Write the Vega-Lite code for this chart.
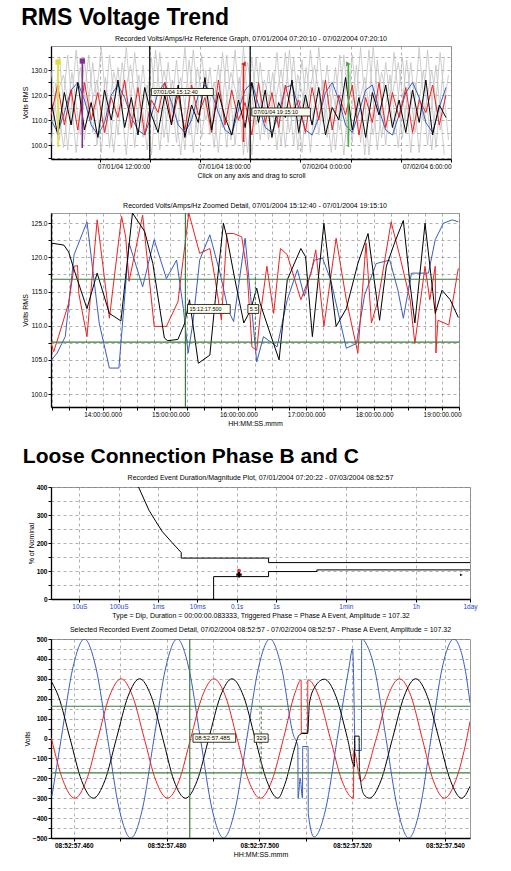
{
"$schema": "https://vega.github.io/schema/vega-lite/v6.json",
"background": "white",
"padding": {"left": 21, "right": 4, "top": 6, "bottom": 2},
"config": {
 "font": "Liberation Sans",
 "view": {"stroke": "#9a9a9a", "strokeWidth": 1},
 "axis": {"labelFontSize": 6.5, "titleFontSize": 7, "titleFontWeight": "normal", "domainColor": "#000", "domainWidth": 1.3, "tickColor": "#000", "tickSize": 3, "gridDash": [3, 3], "gridColor": "#7a7a7a", "gridWidth": 0.6, "labelColor": "#000", "titleColor": "#000", "labelPadding": 1, "titlePadding": 2, "labelFlush": false, "labelOverlap": false, "tickCount": 100},
 "title": {"fontSize": 7, "fontWeight": "normal", "color": "#000", "offset": 3},
 "line": {"clip": true}
},
"datasets": {
 "p1c": [
  {"t":6.1,"b":110,"r":112,"k":118},{"t":6.5,"b":105,"r":124,"k":104},{"t":6.9,"b":113,"r":108,"k":121},{"t":7.3,"b":122,"r":122,"k":108},{"t":7.7,"b":125,"r":106,"k":125},{"t":8.1,"b":118,"r":125,"k":106},{"t":8.5,"b":108,"r":110,"k":117},{"t":8.9,"b":104,"r":121,"k":103},{"t":9.3,"b":109,"r":105,"k":122},{"t":9.7,"b":120,"r":119,"k":110},
  {"t":10.1,"b":124,"r":111,"k":126},{"t":10.5,"b":119,"r":126,"k":107},{"t":10.9,"b":111,"r":107,"k":119},{"t":11.3,"b":106,"r":123,"k":104},{"t":11.7,"b":104,"r":104,"k":123},{"t":12.1,"b":112,"r":118,"k":112},{"t":12.5,"b":121,"r":113,"k":105},{"t":12.9,"b":125,"r":125,"k":120},{"t":13.3,"b":117,"r":109,"k":108},{"t":13.7,"b":108,"r":120,"k":124},
  {"t":14.1,"b":105,"r":106,"k":103},{"t":14.5,"b":110,"r":124,"k":116},{"t":14.9,"b":120,"r":112,"k":109},{"t":15.3,"b":124,"r":119,"k":127},{"t":15.7,"b":121,"r":105,"k":106},{"t":16.1,"b":113,"r":126,"k":121},{"t":16.5,"b":106,"r":108,"k":111},{"t":16.9,"b":104,"r":122,"k":104},{"t":17.3,"b":114,"r":110,"k":118},{"t":17.7,"b":122,"r":117,"k":107},
  {"t":18.1,"b":125,"r":104,"k":125},{"t":18.5,"b":116,"r":125,"k":109},{"t":18.9,"b":107,"r":109,"k":122},{"t":19.3,"b":105,"r":121,"k":103},{"t":19.7,"b":112,"r":107,"k":117},{"t":20.1,"b":123,"r":124,"k":111},{"t":20.5,"b":124,"r":113,"k":126},{"t":20.9,"b":115,"r":118,"k":105},{"t":21.3,"b":106,"r":105,"k":120},{"t":21.7,"b":104,"r":123,"k":108},
  {"t":22.1,"b":111,"r":110,"k":123},{"t":22.5,"b":121,"r":126,"k":104},{"t":22.9,"b":125,"r":106,"k":115},{"t":23.3,"b":118,"r":120,"k":110},{"t":23.7,"b":108,"r":112,"k":127},{"t":24.1,"b":105,"r":124,"k":106},{"t":24.5,"b":113,"r":104,"k":119},{"t":24.9,"b":122,"r":119,"k":103},{"t":25.3,"b":124,"r":109,"k":121},{"t":25.7,"b":114,"r":125,"k":112},
  {"t":26.1,"b":106,"r":107,"k":124},{"t":26.5,"b":104,"r":121,"k":107},{"t":26.9,"b":112,"r":111,"k":118},{"t":27.3,"b":121,"r":123,"k":105},{"t":27.7,"b":125,"r":105,"k":122},{"t":28.1,"b":119,"r":118,"k":109},{"t":28.5,"b":109,"r":113,"k":126},{"t":28.9,"b":105,"r":124,"k":104},{"t":29.3,"b":115,"r":108,"k":116},{"t":29.7,"b":123,"r":120,"k":111}
 ],
 "p1gA": [
  {"t":6.1,"g1":100,"g2":130},{"t":6.6,"g1":135,"g2":102},{"t":7.1,"g1":98,"g2":136},{"t":7.6,"g1":138,"g2":97},{"t":8.1,"g1":102,"g2":134},{"t":8.6,"g1":133,"g2":105},{"t":9.1,"g1":97,"g2":139},{"t":9.6,"g1":136,"g2":99},{"t":10.1,"g1":104,"g2":131},{"t":10.6,"g1":139,"g2":96},
  {"t":11.1,"g1":99,"g2":137},{"t":11.6,"g1":132,"g2":103},{"t":12.1,"g1":96,"g2":135},{"t":12.6,"g1":137,"g2":98},{"t":13.1,"g1":101,"g2":133},{"t":13.6,"g1":134,"g2":101},{"t":14.1,"g1":98,"g2":139},{"t":14.6,"g1":138,"g2":97},{"t":15.1,"g1":103,"g2":136},{"t":15.6,"g1":131,"g2":104},
  {"t":16.1,"g1":97,"g2":132},{"t":16.6,"g1":136,"g2":99},{"t":17.1,"g1":100,"g2":138},{"t":17.6,"g1":139,"g2":96},{"t":18.1,"g1":96,"g2":135},{"t":18.6,"g1":133,"g2":102},{"t":19.1,"g1":102,"g2":130},{"t":19.6,"g1":137,"g2":98},{"t":20.1,"g1":99,"g2":137},{"t":20.6,"g1":135,"g2":100},
  {"t":21.1,"g1":97,"g2":134},{"t":21.6,"g1":138,"g2":97},{"t":22.1,"g1":104,"g2":139},{"t":22.6,"g1":132,"g2":103},{"t":23.1,"g1":98,"g2":131},{"t":23.6,"g1":136,"g2":96},{"t":24.1,"g1":101,"g2":136},{"t":24.6,"g1":139,"g2":101},{"t":25.1,"g1":96,"g2":138},{"t":25.6,"g1":134,"g2":98},
  {"t":26.1,"g1":100,"g2":133},{"t":26.6,"g1":137,"g2":104},{"t":27.1,"g1":103,"g2":135},{"t":27.6,"g1":133,"g2":97},{"t":28.1,"g1":97,"g2":139},{"t":28.6,"g1":138,"g2":100},{"t":29.1,"g1":99,"g2":132},{"t":29.6,"g1":135,"g2":96}
 ],
 "p1gB": [
  {"t":6.35,"g3":118,"g4":125},{"t":6.85,"g3":128,"g4":99},{"t":7.35,"g3":108,"g4":129},{"t":7.85,"g3":131,"g4":104},{"t":8.35,"g3":112,"g4":136},{"t":8.85,"g3":126,"g4":100},{"t":9.35,"g3":105,"g4":127},{"t":9.85,"g3":129,"g4":97},{"t":10.35,"g3":115,"g4":133},{"t":10.85,"g3":132,"g4":106},
  {"t":11.35,"g3":109,"g4":128},{"t":11.85,"g3":124,"g4":98},{"t":12.35,"g3":106,"g4":138},{"t":12.85,"g3":130,"g4":103},{"t":13.35,"g3":113,"g4":126},{"t":13.85,"g3":127,"g4":96},{"t":14.35,"g3":104,"g4":134},{"t":14.85,"g3":131,"g4":105},{"t":15.35,"g3":110,"g4":130},{"t":15.85,"g3":125,"g4":99},
  {"t":16.35,"g3":107,"g4":137},{"t":16.85,"g3":129,"g4":102},{"t":17.35,"g3":116,"g4":127},{"t":17.85,"g3":133,"g4":97},{"t":18.35,"g3":108,"g4":135},{"t":18.85,"g3":126,"g4":104},{"t":19.35,"g3":111,"g4":129},{"t":19.85,"g3":130,"g4":100},{"t":20.35,"g3":105,"g4":138},{"t":20.85,"g3":128,"g4":98},
  {"t":21.35,"g3":114,"g4":131},{"t":21.85,"g3":132,"g4":106},{"t":22.35,"g3":109,"g4":126},{"t":22.85,"g3":124,"g4":97},{"t":23.35,"g3":106,"g4":136},{"t":23.85,"g3":131,"g4":101},{"t":24.35,"g3":112,"g4":132},{"t":24.85,"g3":127,"g4":96},{"t":25.35,"g3":104,"g4":139},{"t":25.85,"g3":129,"g4":103},
  {"t":26.35,"g3":115,"g4":128},{"t":26.85,"g3":133,"g4":99},{"t":27.35,"g3":107,"g4":134},{"t":27.85,"g3":125,"g4":105},{"t":28.35,"g3":110,"g4":130},{"t":28.85,"g3":130,"g4":98},{"t":29.35,"g3":106,"g4":137},{"t":29.85,"g3":128,"g4":102}
 ],
 "p1m": [
  {"m":"Phase A","t":6.52,"v":99.2,"v2":133.2},
  {"m":"Phase B","t":7.97,"v":98.8,"v2":133.6},
  {"m":"Phase C","t":17.6,"v":101.2,"v2":132.4},
  {"m":"Neutral","t":23.87,"v":99.2,"v2":132.4}
 ],
 "p1lab": [
  {"t":12.1,"t2":15.8,"v":119.8,"v2":122.6,"txt":"07/01/04 15:12:40"},
  {"t":18.1,"t2":21.6,"v":111.6,"v2":114.8,"txt":"07/01/04 19:15:10"}
 ],
 "p2": [
  {"s":"b","t":13.24,"v":104.9},{"s":"b","t":13.33,"v":106.0},{"s":"b","t":13.45,"v":108.4},{"s":"b","t":13.58,"v":120.4},{"s":"b","t":13.77,"v":125.2},{"s":"b","t":13.95,"v":110.4},{"s":"b","t":14.10,"v":103.8},{"s":"b","t":14.24,"v":103.8},{"s":"b","t":14.39,"v":122.1},{"s":"b","t":14.59,"v":115.7},
  {"s":"b","t":14.76,"v":122.6},{"s":"b","t":14.94,"v":116.9},{"s":"b","t":15.09,"v":119.6},{"s":"b","t":15.19,"v":112.5},{"s":"b","t":15.26,"v":106.0},{"s":"b","t":15.33,"v":110.4},{"s":"b","t":15.43,"v":119.6},{"s":"b","t":15.58,"v":123.3},{"s":"b","t":15.73,"v":117.7},{"s":"b","t":15.85,"v":112.3},
  {"s":"b","t":15.93,"v":110.6},{"s":"b","t":16.10,"v":122.8},{"s":"b","t":16.18,"v":114.3},{"s":"b","t":16.27,"v":104.7},{"s":"b","t":16.37,"v":108.4},{"s":"b","t":16.57,"v":106.9},{"s":"b","t":16.72,"v":113.8},{"s":"b","t":16.87,"v":118.2},{"s":"b","t":16.97,"v":114.3},{"s":"b","t":17.12,"v":119.6},
  {"s":"b","t":17.24,"v":119.9},{"s":"b","t":17.36,"v":116.7},{"s":"b","t":17.59,"v":106.7},{"s":"b","t":17.74,"v":107.4},{"s":"b","t":17.86,"v":114.5},{"s":"b","t":18.03,"v":119.1},{"s":"b","t":18.23,"v":119.6},{"s":"b","t":18.35,"v":115.2},{"s":"b","t":18.43,"v":111.1},{"s":"b","t":18.55,"v":117.7},
  {"s":"b","t":18.80,"v":117.7},{"s":"b","t":18.90,"v":122.6},{"s":"b","t":19.02,"v":125.0},{"s":"b","t":19.15,"v":125.5},{"s":"b","t":19.24,"v":125.2},
  {"s":"r","t":13.24,"v":107.4},{"s":"r","t":13.28,"v":106.2},{"s":"r","t":13.35,"v":108.4},{"s":"r","t":13.50,"v":113.3},{"s":"r","t":13.58,"v":118.7},{"s":"r","t":13.63,"v":118.8},{"s":"r","t":13.65,"v":114.7},{"s":"r","t":13.77,"v":108.4},{"s":"r","t":13.92,"v":125.5},{"s":"r","t":13.97,"v":121.6},
  {"s":"r","t":14.10,"v":111.1},{"s":"r","t":14.28,"v":126.0},{"s":"r","t":14.34,"v":123.0},{"s":"r","t":14.39,"v":116.5},{"s":"r","t":14.59,"v":126.2},{"s":"r","t":14.76,"v":109.9},{"s":"r","t":14.94,"v":109.9},{"s":"r","t":15.11,"v":113.5},{"s":"r","t":15.21,"v":121.6},{"s":"r","t":15.27,"v":126.5},
  {"s":"r","t":15.43,"v":120.6},{"s":"r","t":15.58,"v":121.3},{"s":"r","t":15.66,"v":116.7},{"s":"r","t":15.75,"v":110.8},{"s":"r","t":15.83,"v":123.5},{"s":"r","t":15.93,"v":123.5},{"s":"r","t":16.05,"v":123.0},{"s":"r","t":16.13,"v":117.7},{"s":"r","t":16.20,"v":106.9},{"s":"r","t":16.27,"v":106.4},
  {"s":"r","t":16.32,"v":111.3},{"s":"r","t":16.42,"v":118.7},{"s":"r","t":16.52,"v":111.8},{"s":"r","t":16.62,"v":121.3},{"s":"r","t":16.72,"v":120.4},{"s":"r","t":16.92,"v":113.8},{"s":"r","t":17.07,"v":117.7},{"s":"r","t":17.14,"v":121.1},{"s":"r","t":17.26,"v":109.9},{"s":"r","t":17.44,"v":122.8},
  {"s":"r","t":17.59,"v":113.8},{"s":"r","t":17.76,"v":106.0},{"s":"r","t":17.88,"v":122.1},{"s":"r","t":17.96,"v":110.4},{"s":"r","t":18.06,"v":113.8},{"s":"r","t":18.25,"v":125.2},{"s":"r","t":18.38,"v":120.1},{"s":"r","t":18.53,"v":113.8},{"s":"r","t":18.60,"v":107.4},{"s":"r","t":18.75,"v":118.7},
  {"s":"r","t":18.82,"v":113.8},{"s":"r","t":18.90,"v":118.7},{"s":"r","t":18.91,"v":106.0},{"s":"r","t":18.94,"v":110.8},{"s":"r","t":19.10,"v":110.1},{"s":"r","t":19.24,"v":118.4},
  {"s":"k","t":13.24,"v":122.1},{"s":"k","t":13.43,"v":121.8},{"s":"k","t":13.50,"v":120.8},{"s":"k","t":13.58,"v":118.2},{"s":"k","t":13.77,"v":112.5},{"s":"k","t":13.92,"v":117.7},{"s":"k","t":14.10,"v":111.8},{"s":"k","t":14.27,"v":110.7},{"s":"k","t":14.44,"v":126.5},{"s":"k","t":14.62,"v":123.8},
  {"s":"k","t":14.74,"v":119.1},{"s":"k","t":14.91,"v":108.2},{"s":"k","t":14.96,"v":107.8},{"s":"k","t":15.11,"v":108.0},{"s":"k","t":15.21,"v":110.4},{"s":"k","t":15.28,"v":113.8},{"s":"k","t":15.41,"v":104.5},{"s":"k","t":15.58,"v":105.7},{"s":"k","t":15.66,"v":113.8},{"s":"k","t":15.78,"v":125.0},
  {"s":"k","t":15.83,"v":123.0},{"s":"k","t":15.95,"v":116.7},{"s":"k","t":16.08,"v":110.4},{"s":"k","t":16.18,"v":112.3},{"s":"k","t":16.27,"v":115.5},{"s":"k","t":16.32,"v":113.3},{"s":"k","t":16.45,"v":109.4},{"s":"k","t":16.60,"v":105.0},{"s":"k","t":16.72,"v":116.7},{"s":"k","t":16.92,"v":121.3},
  {"s":"k","t":16.99,"v":120.1},{"s":"k","t":17.09,"v":108.4},{"s":"k","t":17.26,"v":125.0},{"s":"k","t":17.34,"v":118.2},{"s":"k","t":17.44,"v":109.9},{"s":"k","t":17.59,"v":112.5},{"s":"k","t":17.76,"v":119.1},{"s":"k","t":17.91,"v":123.5},{"s":"k","t":18.08,"v":110.8},{"s":"k","t":18.18,"v":118.7},
  {"s":"k","t":18.30,"v":122.1},{"s":"k","t":18.43,"v":125.4},{"s":"k","t":18.53,"v":116.0},{"s":"k","t":18.60,"v":110.4},{"s":"k","t":18.75,"v":125.0},{"s":"k","t":18.90,"v":111.8},{"s":"k","t":19.00,"v":115.2},{"s":"k","t":19.12,"v":113.8},{"s":"k","t":19.24,"v":111.2}
 ],
 "p2lab": [
  {"t":15.25,"t2":15.88,"v":111.8,"v2":113.1,"txt":"15:12:17.500"},
  {"t":16.14,"t2":16.30,"v":111.8,"v2":113.1,"txt":"5.5"}
 ],
 "p3": [
  {"s":"u","i":0,"t":0.00032,"v":400},{"s":"u","i":1,"t":0.00059,"v":317},{"s":"u","i":2,"t":0.00089,"v":276},{"s":"u","i":3,"t":0.0013,"v":240},{"s":"u","i":4,"t":0.0023,"v":201},{"s":"u","i":5,"t":0.0039,"v":166},{"s":"u","i":6,"t":0.0039,"v":146},{"s":"u","i":7,"t":0.65,"v":146},{"s":"u","i":8,"t":0.65,"v":130},{"s":"u","i":9,"t":86400,"v":130},
  {"s":"l","i":0,"t":0.026,"v":0},{"s":"l","i":1,"t":0.026,"v":80},{"s":"l","i":2,"t":0.65,"v":80},{"s":"l","i":3,"t":0.65,"v":98},{"s":"l","i":4,"t":11,"v":98},{"s":"l","i":5,"t":11,"v":104},{"s":"l","i":6,"t":86400,"v":104}
 ],
 "p4": [
  {"s":"b","t":455.3,"v":-290},{"s":"b","t":457.3,"v":0},{"s":"b","t":459.8,"v":354},{"s":"b","t":462.3,"v":500},{"s":"b","t":464.8,"v":354},{"s":"b","t":467.3,"v":0},{"s":"b","t":469.8,"v":-354},{"s":"b","t":472.3,"v":-500},{"s":"b","t":474.8,"v":-354},{"s":"b","t":477.3,"v":0},
  {"s":"b","t":479.8,"v":354},{"s":"b","t":482.3,"v":500},{"s":"b","t":484.8,"v":354},{"s":"b","t":487.3,"v":0},{"s":"b","t":489.8,"v":-354},{"s":"b","t":492.3,"v":-500},{"s":"b","t":494.8,"v":-354},{"s":"b","t":497.3,"v":0},{"s":"b","t":499.8,"v":354},{"s":"b","t":502.3,"v":500},
  {"s":"b","t":504.8,"v":354},{"s":"b","t":507.3,"v":20},{"s":"b","t":508.3,"v":-40},{"s":"b","t":508.35,"v":-300},{"s":"b","t":508.8,"v":-200},{"s":"b","t":509.3,"v":-300},{"s":"b","t":509.35,"v":-40},{"s":"b","t":510.5,"v":-40},{"s":"b","t":510.55,"v":-380},{"s":"b","t":511.8,"v":-495},
  {"s":"b","t":514.3,"v":-354},{"s":"b","t":516.8,"v":0},{"s":"b","t":519.3,"v":354},{"s":"b","t":520.1,"v":450},{"s":"b","t":520.7,"v":-60},{"s":"b","t":522.0,"v":-60},{"s":"b","t":522.05,"v":505},{"s":"b","t":522.3,"v":500},{"s":"b","t":524.8,"v":354},{"s":"b","t":527.3,"v":0},
  {"s":"b","t":529.8,"v":-354},{"s":"b","t":532.2,"v":-500},{"s":"b","t":534.6,"v":-354},{"s":"b","t":537.0,"v":0},{"s":"b","t":539.4,"v":354},{"s":"b","t":541.9,"v":500},{"s":"b","t":544.3,"v":354},{"s":"b","t":545.4,"v":180},
  {"s":"r","t":455.2,"v":0},{"s":"r","t":457.7,"v":-212},{"s":"r","t":460.2,"v":-300},{"s":"r","t":462.7,"v":-212},{"s":"r","t":465.2,"v":0},{"s":"r","t":467.7,"v":212},{"s":"r","t":470.2,"v":300},{"s":"r","t":472.7,"v":212},{"s":"r","t":475.2,"v":0},{"s":"r","t":477.7,"v":-212},
  {"s":"r","t":480.2,"v":-300},{"s":"r","t":482.7,"v":-212},{"s":"r","t":485.2,"v":0},{"s":"r","t":487.7,"v":212},{"s":"r","t":490.2,"v":300},{"s":"r","t":492.7,"v":212},{"s":"r","t":495.2,"v":0},{"s":"r","t":497.7,"v":-212},{"s":"r","t":500.2,"v":-300},{"s":"r","t":502.7,"v":-212},
  {"s":"r","t":505.2,"v":0},{"s":"r","t":507.7,"v":230},{"s":"r","t":509.0,"v":295},{"s":"r","t":509.05,"v":28},{"s":"r","t":510.4,"v":28},{"s":"r","t":510.45,"v":295},{"s":"r","t":512.8,"v":212},{"s":"r","t":515.3,"v":0},{"s":"r","t":517.8,"v":-212},{"s":"r","t":520.3,"v":-300},
  {"s":"r","t":520.35,"v":-60},{"s":"r","t":521.9,"v":-214},{"s":"r","t":525.2,"v":0},{"s":"r","t":527.7,"v":212},{"s":"r","t":530.2,"v":300},{"s":"r","t":532.7,"v":212},{"s":"r","t":535.1,"v":0},{"s":"r","t":537.5,"v":-212},{"s":"r","t":539.9,"v":-300},{"s":"r","t":542.3,"v":-212},
  {"s":"r","t":544.7,"v":0},{"s":"r","t":545.4,"v":85},
  {"s":"k","t":455.3,"v":282},{"s":"k","t":456.7,"v":212},{"s":"k","t":459.2,"v":0},{"s":"k","t":461.7,"v":-212},{"s":"k","t":464.2,"v":-300},{"s":"k","t":466.7,"v":-212},{"s":"k","t":469.2,"v":0},{"s":"k","t":471.7,"v":212},{"s":"k","t":474.2,"v":300},{"s":"k","t":476.7,"v":212},
  {"s":"k","t":479.2,"v":0},{"s":"k","t":481.6,"v":-212},{"s":"k","t":484.1,"v":-300},{"s":"k","t":486.6,"v":-212},{"s":"k","t":489.1,"v":0},{"s":"k","t":491.6,"v":212},{"s":"k","t":494.1,"v":300},{"s":"k","t":496.6,"v":212},{"s":"k","t":499.1,"v":0},{"s":"k","t":501.6,"v":-212},
  {"s":"k","t":504.0,"v":-300},{"s":"k","t":505.5,"v":-230},{"s":"k","t":507.6,"v":-48},{"s":"k","t":508.4,"v":10},{"s":"k","t":509.2,"v":25},{"s":"k","t":510.4,"v":25},{"s":"k","t":510.8,"v":178},{"s":"k","t":512.0,"v":260},{"s":"k","t":514.0,"v":298},{"s":"k","t":516.5,"v":212},
  {"s":"k","t":519.0,"v":0},{"s":"k","t":520.5,"v":-140},{"s":"k","t":520.55,"v":12},{"s":"k","t":521.5,"v":12},{"s":"k","t":521.55,"v":-150},{"s":"k","t":522.5,"v":-280},{"s":"k","t":523.7,"v":-300},{"s":"k","t":526.2,"v":-212},{"s":"k","t":528.7,"v":0},{"s":"k","t":531.2,"v":212},
  {"s":"k","t":533.7,"v":300},{"s":"k","t":536.2,"v":212},{"s":"k","t":538.7,"v":0},{"s":"k","t":541.2,"v":-212},{"s":"k","t":543.6,"v":-300},{"s":"k","t":545.4,"v":-240}
 ],
 "p4lab": [
  {"t":485.7,"t2":494.9,"v":-19,"v2":23,"txt":"08:52:57.485"},
  {"t":498.9,"t2":501.9,"v":-19,"v2":23,"txt":"329"}
 ]
},
"spacing": 18,
"vconcat": [
 {
  "title": {"text": "RMS Voltage Trend", "fontSize": 23, "fontWeight": "bold", "anchor": "start", "offset": 5, "font": "Liberation Sans"},
  "spacing": 22,
  "vconcat": [
   {
    "width": 400, "height": 113,
    "title": {"text": "Recorded Volts/Amps/Hz Reference Graph, 07/01/2004 07:20:10 - 07/02/2004 07:20:10"},
    "layer": [
     {"data": {"name": "p1gA"}, "transform": [{"fold": ["g1", "g2"], "as": ["s", "v"]}],
      "mark": {"type": "line", "color": "#c2c2c2", "strokeWidth": 0.8, "clip": true},
      "encoding": {
       "x": {"field": "t", "type": "quantitative", "scale": {"domain": [6.1, 30], "nice": false, "zero": false},
             "axis": {"title": "Click on any axis and drag to scroll", "tickCount": 100, "values": [9, 12, 15, 18, 21, 24, 27, 30], "labelAlign": "right", "labelOverlap": false,
                      "labelExpr": "datum.value==12?'07/01/04 12:00:00':datum.value==18?'07/01/04 18:00:00':datum.value==24?'07/02/04 0:00:00':datum.value==30?'07/02/04 6:00:00':''"}},
       "y": {"field": "v", "type": "quantitative", "scale": {"domain": [94.4, 139.6], "nice": false, "zero": false},
             "axis": {"title": "Volts RMS", "tickCount": 100, "values": [95, 100, 105, 110, 115, 120, 125, 130, 135], "labelOverlap": false, "labelExpr": "datum.value%10==0?format(datum.value,'.1f'):''"}},
       "detail": {"field": "s"}}},
     {"data": {"name": "p1gB"}, "transform": [{"fold": ["g3", "g4"], "as": ["s", "v"]}],
      "mark": {"type": "line", "color": "#c2c2c2", "strokeWidth": 0.8, "clip": true},
      "encoding": {"x": {"field": "t", "type": "quantitative"}, "y": {"field": "v", "type": "quantitative"}, "detail": {"field": "s"}}},
     {"data": {"name": "p1c"}, "transform": [{"fold": ["b", "r", "k"], "as": ["s", "v"]}],
      "mark": {"type": "line", "strokeWidth": 1, "clip": true},
      "encoding": {"x": {"field": "t", "type": "quantitative"}, "y": {"field": "v", "type": "quantitative"},
       "color": {"field": "s", "type": "nominal", "scale": {"domain": ["b", "r", "k"], "range": ["#3a5cc0", "#ee2020", "#000000"]}, "legend": null}}},
     {"data": {"values": [{"t": 12}, {"t": 18}]}, "mark": {"type": "rule", "color": "#000", "strokeWidth": 1.2},
      "encoding": {"x": {"field": "t", "type": "quantitative"}}},
     {"data": {"name": "p1m"}, "mark": {"type": "rule", "strokeWidth": 1.6},
      "encoding": {"x": {"field": "t", "type": "quantitative"}, "y": {"field": "v", "type": "quantitative"}, "y2": {"field": "v2"},
       "stroke": {"field": "m", "type": "nominal", "scale": {"domain": ["Phase A", "Phase B", "Phase C", "Neutral"], "range": ["#e6dc2c", "#8a2a9a", "#e02020", "#44b044"]}, "legend": null}}},
     {"data": {"name": "p1m"}, "mark": {"type": "point", "filled": true, "size": 28, "opacity": 1},
      "encoding": {"x": {"field": "t", "type": "quantitative"}, "y": {"field": "v2", "type": "quantitative"},
       "fill": {"field": "m", "type": "nominal", "scale": {"domain": ["Phase A", "Phase B", "Phase C", "Neutral"], "range": ["#e6dc2c", "#8a2a9a", "#e02020", "#44b044"]}, "legend": null},
       "shape": {"field": "m", "type": "nominal", "scale": {"domain": ["Phase A", "Phase B", "Phase C", "Neutral"], "range": ["square", "square", "triangle-left", "triangle-right"]}, "legend": null}}},
     {"data": {"name": "p1lab"}, "mark": {"type": "rect", "fill": "#fffff0", "stroke": "#000", "strokeWidth": 0.8},
      "encoding": {"x": {"field": "t", "type": "quantitative"}, "x2": {"field": "t2"}, "y": {"field": "v", "type": "quantitative"}, "y2": {"field": "v2"}}},
     {"data": {"name": "p1lab"}, "mark": {"type": "text", "fontSize": 5.5, "align": "left", "baseline": "bottom", "dx": 2, "dy": -1},
      "encoding": {"x": {"field": "t", "type": "quantitative"}, "y": {"field": "v", "type": "quantitative"}, "text": {"field": "txt"}}}
    ]
   },
   {
    "width": 408, "height": 194,
    "title": {"text": "Recorded Volts/Amps/Hz Zoomed Detail, 07/01/2004 15:12:40 - 07/01/2004 19:15:10"},
    "layer": [
     {"data": {"name": "p2"}, "mark": {"type": "line", "strokeWidth": 1, "clip": true},
      "encoding": {
       "x": {"field": "t", "type": "quantitative", "scale": {"domain": [13.24, 19.25], "nice": false, "zero": false},
             "axis": {"title": "HH:MM:SS.mmm", "tickCount": 100, "labelOverlap": false, "values": [13.25, 13.5, 13.75, 14, 14.25, 14.5, 14.75, 15, 15.25, 15.5, 15.75, 16, 16.25, 16.5, 16.75, 17, 17.25, 17.5, 17.75, 18, 18.25, 18.5, 18.75, 19, 19.25],
                      "labelExpr": "datum.value%1==0?format(datum.value,'02d')+':00:00.000':''"}},
       "y": {"field": "v", "type": "quantitative", "scale": {"domain": [98.1, 126.5], "nice": false, "zero": false},
             "axis": {"title": "Volts RMS", "tickCount": 100, "labelOverlap": false, "values": [100, 102.5, 105, 107.5, 110, 112.5, 115, 117.5, 120, 122.5, 125], "labelExpr": "datum.value%5==0?format(datum.value,'.1f'):''"}},
       "color": {"field": "s", "type": "nominal", "scale": {"domain": ["b", "r", "k"], "range": ["#3a5cc0", "#ee2020", "#000000"]}, "legend": null}}},
     {"data": {"values": [{"v": 116.8}, {"v": 107.6}]}, "mark": {"type": "rule", "color": "#3d7a3d", "strokeWidth": 1.2},
      "encoding": {"y": {"field": "v", "type": "quantitative"}}},
     {"data": {"values": [{"t": 15.22}]}, "mark": {"type": "rule", "color": "#3d7a3d", "strokeWidth": 1.2},
      "encoding": {"x": {"field": "t", "type": "quantitative"}}},
     {"data": {"values": [{"t": 16.25, "v": 107.2, "v2": 117.2}]}, "mark": {"type": "rule", "color": "#3d7a3d", "strokeWidth": 1, "strokeDash": [3, 2]},
      "encoding": {"x": {"field": "t", "type": "quantitative"}, "y": {"field": "v", "type": "quantitative"}, "y2": {"field": "v2"}}},
     {"data": {"name": "p2lab"}, "mark": {"type": "rect", "fill": "#fffff0", "stroke": "#000", "strokeWidth": 0.8},
      "encoding": {"x": {"field": "t", "type": "quantitative"}, "x2": {"field": "t2"}, "y": {"field": "v", "type": "quantitative"}, "y2": {"field": "v2"}}},
     {"data": {"name": "p2lab"}, "mark": {"type": "text", "fontSize": 5.5, "align": "left", "baseline": "bottom", "dx": 2, "dy": -1},
      "encoding": {"x": {"field": "t", "type": "quantitative"}, "y": {"field": "v", "type": "quantitative"}, "text": {"field": "txt"}}}
    ]
   }
  ]
 },
 {
  "title": {"text": "Loose Connection Phase B and C", "fontSize": 21, "fontWeight": "bold", "anchor": "start", "offset": 7, "font": "Liberation Sans"},
  "spacing": 6,
  "vconcat": [
   {
    "width": 419, "height": 112,
    "title": {"text": "Recorded Event Duration/Magnitude Plot, 07/01/2004 07:20:22 - 07/03/2004 08:52:57"},
    "layer": [
     {"data": {"name": "p3"}, "mark": {"type": "line", "color": "#000", "strokeWidth": 1, "clip": true},
      "encoding": {
       "x": {"field": "t", "type": "quantitative", "scale": {"type": "log", "domain": [0.0000019, 86400], "nice": false},
             "axis": {"title": "Type = Dip, Duration = 00:00:00.083333, Triggered Phase = Phase A Event, Amplitude = 107.32", "tickCount": 100, "labelOverlap": false, "values": [0.00001, 0.0001, 0.001, 0.01, 0.1, 1, 60, 3600, 86400], "labelColor": "#2244cc",
                      "labelExpr": "datum.value==0.00001?'10uS':datum.value==0.0001?'100uS':datum.value==0.001?'1ms':datum.value==0.01?'10ms':datum.value==0.1?'0.1s':datum.value==1?'1s':datum.value==60?'1min':datum.value==3600?'1h':'1day'"}},
       "y": {"field": "v", "type": "quantitative", "scale": {"domain": [0, 400], "nice": false},
             "axis": {"title": "% of Nominal", "tickCount": 100, "labelOverlap": false, "values": [0, 50, 100, 150, 200, 250, 300, 350, 400], "labelFontWeight": "bold", "labelExpr": "datum.value%100==0?format(datum.value,'d'):''"}},
       "detail": {"field": "s"}, "order": {"field": "i"}}},
     {"data": {"values": [{"t": 0.115, "v": 101}]}, "mark": {"type": "point", "filled": true, "color": "#ff3030", "size": 16, "opacity": 1},
      "encoding": {"x": {"field": "t", "type": "quantitative"}, "y": {"field": "v", "type": "quantitative"}}},
     {"data": {"values": [{"t": 0.115, "v": 87}]}, "mark": {"type": "point", "shape": "cross", "filled": true, "color": "#000", "size": 30, "opacity": 1},
      "encoding": {"x": {"field": "t", "type": "quantitative"}, "y": {"field": "v", "type": "quantitative"}}},
     {"data": {"values": [{"t": 52000, "v": 86}]}, "mark": {"type": "point", "shape": "triangle-right", "filled": true, "color": "#000", "size": 8, "opacity": 1},
      "encoding": {"x": {"field": "t", "type": "quantitative"}, "y": {"field": "v", "type": "quantitative"}}}
    ]
   },
   {
    "width": 419, "height": 199,
    "title": {"text": "Selected Recorded Event Zoomed Detail, 07/02/2004 08:52:57 - 07/02/2004 08:52:57 - Phase A Event, Amplitude = 107.32"},
    "layer": [
     {"data": {"name": "p4"}, "mark": {"type": "line", "strokeWidth": 1, "interpolate": "monotone", "clip": true},
      "encoding": {
       "x": {"field": "t", "type": "quantitative", "scale": {"domain": [455.1, 545.4], "nice": false, "zero": false},
             "axis": {"title": "HH:MM:SS.mmm", "tickCount": 100, "labelOverlap": false, "values": [460, 470, 480, 490, 500, 510, 520, 530, 540], "labelFontWeight": "bold",
                      "labelExpr": "datum.value%20==0?'08:52:57.'+datum.value:''"}},
       "y": {"field": "v", "type": "quantitative", "scale": {"domain": [-500, 500], "nice": false, "zero": false},
             "axis": {"title": "Volts", "tickCount": 100, "labelOverlap": false, "values": [-500, -450, -400, -350, -300, -250, -200, -150, -100, -50, 0, 50, 100, 150, 200, 250, 300, 350, 400, 450, 500], "labelFontWeight": "bold", "labelExpr": "datum.value%100==0?format(datum.value,'d'):''"}},
       "color": {"field": "s", "type": "nominal", "scale": {"domain": ["b", "r", "k"], "range": ["#3a5cc0", "#ee2020", "#000000"]}, "legend": null}}},
     {"data": {"values": [{"v": 162}, {"v": -173}]}, "mark": {"type": "rule", "color": "#3d7a3d", "strokeWidth": 1.2},
      "encoding": {"y": {"field": "v", "type": "quantitative"}}},
     {"data": {"values": [{"t": 485.0}]}, "mark": {"type": "rule", "color": "#3d7a3d", "strokeWidth": 1.2},
      "encoding": {"x": {"field": "t", "type": "quantitative"}}},
     {"data": {"values": [{"t": 500.4, "v": -180, "v2": 170}]}, "mark": {"type": "rule", "color": "#3d7a3d", "strokeWidth": 1, "strokeDash": [3, 2]},
      "encoding": {"x": {"field": "t", "type": "quantitative"}, "y": {"field": "v", "type": "quantitative"}, "y2": {"field": "v2"}}},
     {"data": {"name": "p4lab"}, "mark": {"type": "rect", "fill": "#fffff0", "stroke": "#000", "strokeWidth": 0.8},
      "encoding": {"x": {"field": "t", "type": "quantitative"}, "x2": {"field": "t2"}, "y": {"field": "v", "type": "quantitative"}, "y2": {"field": "v2"}}},
     {"data": {"name": "p4lab"}, "mark": {"type": "text", "fontSize": 6, "align": "left", "baseline": "bottom", "dx": 2, "dy": -1.5},
      "encoding": {"x": {"field": "t", "type": "quantitative"}, "y": {"field": "v", "type": "quantitative"}, "text": {"field": "txt"}}}
    ]
   }
  ]
 }
]
}
